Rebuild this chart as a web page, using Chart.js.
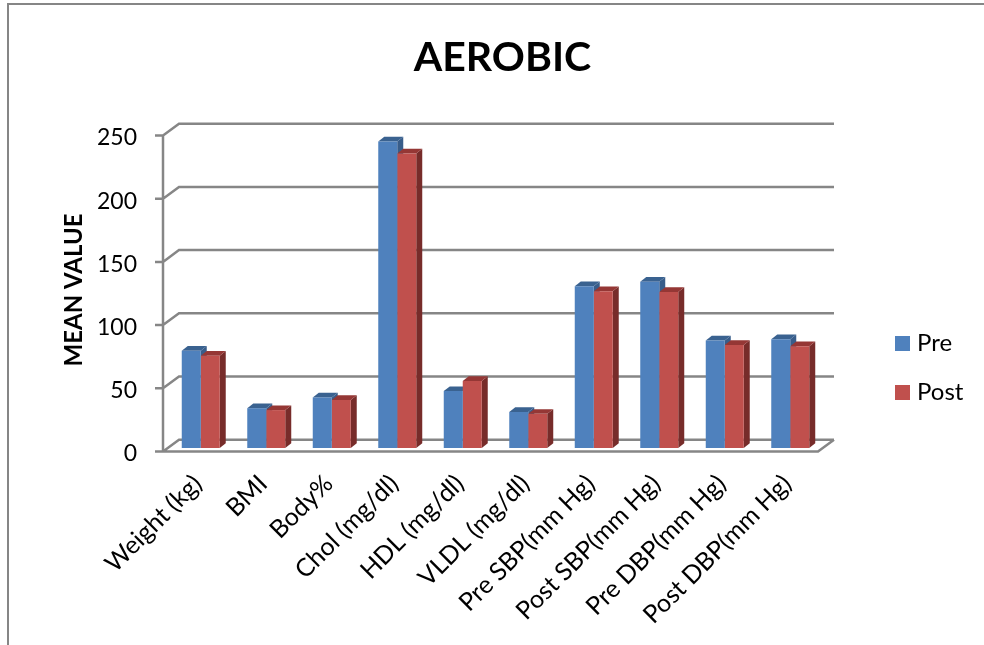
<!DOCTYPE html>
<html>
    <head>
        <meta charset="UTF-8" />
        <title> Aerobic </title>
        <style type="text/css">
            body{ margin: 0; background: #fff; }
            .frame{
                position: absolute; left: 7px; top: 3px; right: 0; bottom: 0;
                border-left: 2px solid #868686; border-top: 2px solid #868686;
            }
            canvas{ position: absolute; left: 0; top: 0; }
        </style>
    </head>
    <body>
        <div class="frame"></div>
        <canvas id="myChart" width="984" height="645"></canvas>

        <script src="https://cdn.jsdelivr.net/npm/chart.js"></script>
        <script>
        //data
        const categories = ['Weight (kg)', 'BMI', 'Body%', 'Chol (mg/dl)', 'HDL (mg/dl)', 'VLDL (mg/dl)',
            'Pre SBP(mm Hg)', 'Post SBP(mm Hg)', 'Pre DBP(mm Hg)', 'Post DBP(mm Hg)'];
        const preValues = [77, 31.5, 40, 242.5, 45, 28.5, 128, 131.5, 85, 86];
        const postValues = [73, 30, 38, 233, 53, 27, 124, 123.5, 81.5, 80.5];
        const seriesNames = ['Pre', 'Post'];

        const fontName = 'Lato, Carlito, sans-serif';
        const lineGray = '#868686';
        const depthX = 6, depthY = 4.7;       // 3d depth of a bar
        const frontDrop = 3.5, backRise = 8.3; // wall lines relative to the bar plane

        function poly(ctx, pts, color){
            ctx.fillStyle = color;
            ctx.beginPath();
            pts.forEach((p, i) => i ? ctx.lineTo(p[0], p[1]) : ctx.moveTo(p[0], p[1]));
            ctx.closePath();
            ctx.fill();
        }

        // the fake 3d box: walls, floor and bar sides, all hung on the chart scales
        const box3d = {
            id: 'box3d',
            afterLayout(chart){
                chart.titleBlock.left = 0;
                chart.titleBlock.right = 1005;
                chart.legend.left = 875;
                chart.legend.right = 984;
                chart.legend.top = 306.5;
                chart.legend.bottom = 500;
            },
            beforeDatasetsDraw(chart){
                const ctx = chart.ctx, y = chart.scales.y, a = chart.chartArea;
                const frontL = a.left - 5, backL = frontL + 16, frontR = a.right - 5, backR = frontR + 16;
                ctx.save();
                ctx.strokeStyle = lineGray;
                ctx.lineWidth = 2.5;
                ctx.beginPath();
                y.ticks.forEach(t => {
                    const p = y.getPixelForValue(t.value);
                    ctx.moveTo(frontL - 8, p + frontDrop);
                    ctx.lineTo(frontL, p + frontDrop);
                    ctx.lineTo(backL, p - backRise);
                    ctx.lineTo(backR, p - backRise);
                });
                const top = y.getPixelForValue(y.max), zero = y.getPixelForValue(0);
                ctx.moveTo(frontL, top + frontDrop);
                ctx.lineTo(frontL, zero + frontDrop);
                ctx.lineTo(frontR, zero + frontDrop);
                ctx.lineTo(backR, zero - backRise);
                ctx.stroke();

                chart.data.datasets.forEach((ds, i) => {
                    chart.getDatasetMeta(i).data.forEach(bar => {
                        const x0 = bar.x - bar.width / 2, x1 = bar.x + bar.width / 2;
                        poly(ctx, [[x1, bar.y], [x1 + depthX, bar.y - depthY], [x1 + depthX, bar.base - depthY], [x1, bar.base]], ds.sideColor);
                        poly(ctx, [[x0, bar.y], [x0 + depthX, bar.y - depthY], [x1 + depthX, bar.y - depthY], [x1, bar.y]], ds.topColor);
                    });
                });
                ctx.restore();
            }
        };

        //config
        const config = {
            type: 'bar',
            data: {
                labels: categories,
                datasets: [
                    { label: seriesNames[0], data: preValues, backgroundColor: '#4F81BD', sideColor: '#385D8A', topColor: '#3A6290' },
                    { label: seriesNames[1], data: postValues, backgroundColor: '#C0504D', sideColor: '#772C2A', topColor: '#953735' }
                ]
            },
            plugins: [box3d],
            options: {
                responsive: false,
                animation: false,
                categoryPercentage: 0.58,
                barPercentage: 1,
                layout: { padding: { right: 81 } },
                plugins: {
                    tooltip: { enabled: false },
                    title: {
                        display: true,
                        text: 'AEROBIC',
                        color: '#000',
                        font: { family: fontName, size: 41, weight: 'bold' },
                        padding: { top: 33.4, bottom: 49.4 }
                    },
                    legend: {
                        position: 'right',
                        align: 'start',
                        maxWidth: 80,
                        labels: {
                            color: '#000',
                            font: { family: fontName, size: 24 },
                            boxWidth: 5,
                            boxHeight: 5,
                            padding: 25,
                            generateLabels: chart => Chart.defaults.plugins.legend.labels.generateLabels(chart)
                                .map(l => ({ ...l, lineWidth: 10, strokeStyle: l.fillStyle }))
                        }
                    }
                },
                scales: {
                    x: {
                        grid: { display: false },
                        border: { display: false },
                        afterFit: s => { s.height = 197; },
                        ticks: {
                            color: '#000',
                            font: { family: fontName, size: 25 },
                            minRotation: 45,
                            maxRotation: 45,
                            autoSkip: false,
                            padding: 13,
                            labelOffset: -3
                        }
                    },
                    y: {
                        min: 0,
                        max: 250,
                        grid: { display: false, drawTicks: false },
                        border: { display: false },
                        afterFit: s => { s.width = 168; },
                        title: {
                            display: true,
                            text: 'MEAN VALUE',
                            color: '#000',
                            font: { family: fontName, size: 24, weight: 'bold' },
                            padding: { top: 60, bottom: 0 }
                        },
                        ticks: {
                            stepSize: 50,
                            color: '#000',
                            font: { family: fontName, size: 23 },
                            padding: 31,
                            labelOffset: 6
                        }
                    }
                }
            }
        };

        //render init
        const myChart = new Chart(document.getElementById('myChart'), config);
        </script>
    </body>
</html>
